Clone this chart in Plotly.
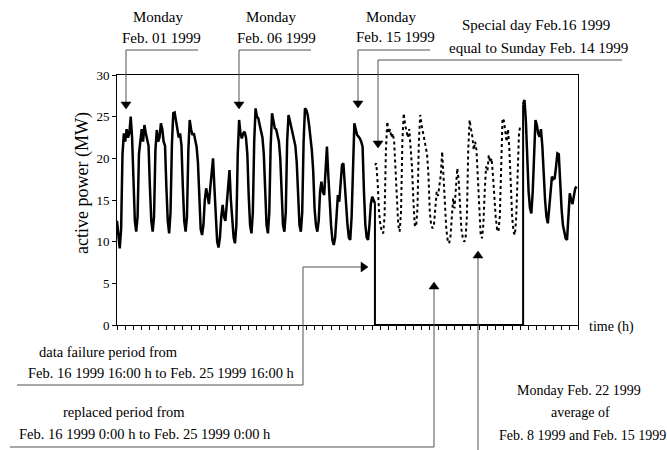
import plotly.graph_objects as go

# ---------------- data (2-hourly samples, MW) ----------------
STEP_H = 2
AXIS_END_H = 672          # Feb 1 0:00 .. Mar 1 0:00
FAIL_START_H = 376        # Feb 16 16:00
FAIL_END_H = 592          # Feb 25 16:00
REPLACED_START_H = 376

# measured load, week of Feb 1 - Feb 7
week1 = [
    12.5, 10.5, 9.2, 11.5, 20.5, 23, 22, 23.5, 22.5, 23, 25, 22.5,
    16.5, 12.5, 11.2, 13, 20.5, 22, 23.5, 22, 24, 23, 22, 21.5,
    16.5, 12.5, 11.2, 13, 21, 23.4, 22, 22.5, 24.2, 23.5, 22, 21.5,
    16.5, 12.5, 11, 13.5, 21.5, 25.4, 25.5, 24.5, 23, 22.5, 23, 21.5,
    16.5, 12.5, 11.2, 13, 21, 24.6, 23.5, 22.8, 23, 22, 21.4, 19.5,
    14, 11.5, 10.8, 12, 15, 16.4, 15.5, 14.5, 16.5, 18, 20, 16.5,
    12.5, 10, 9.3, 10.5, 13, 14.4, 13, 12.5, 14.5, 17, 18.6, 15,
]
# measured load, week of Feb 8 - Feb 14
week2 = [
    12, 10.5, 9.8, 12, 20.5, 24.6, 23, 22.4, 23, 23.2, 22.5, 20.5,
    15.5, 12, 11, 13.5, 22, 26, 25, 24.8, 24, 23.2, 22.5, 20.5,
    16, 12, 11, 13.5, 21.5, 25.4, 24.5, 23.6, 23.5, 22.8, 22, 20,
    15.5, 12, 11.2, 13.5, 22, 25.2, 24.5, 23.8, 23, 22.4, 21.5, 19.5,
    15.5, 12, 11.2, 13.5, 22, 26, 25.8, 25.2, 24, 22.4, 21, 18.5,
    14, 12, 11.2, 12.5, 16, 17.2, 16, 15.6, 18.5, 21.4, 18, 14.5,
    12, 10.2, 9.6, 10.5, 13, 15.6, 14.8, 17, 19.2, 19.4, 17, 13.5,
]
# measured load Feb 15 and Feb 16 up to the data failure
week3_before_failure = [
    12, 10.5, 10.2, 13, 20.5, 24.2, 23.5, 22.8, 22.6, 22.4, 22, 21.4,
    16, 12, 10.5, 10.2, 12, 14.5, 15.4, 15, 14.6,
]
# measured load after the data failure (Feb 25 16:00 .. Feb 28)
after_failure = [
    26.5, 27, 24.5, 20, 16, 14, 13.4, 16, 21, 24.6, 24, 23,
    22.6, 23.5, 21.5, 18, 15, 13, 12.2, 14, 16.5, 17.8, 17.5, 17.6,
    19, 20.6, 20.5, 17, 14, 12, 11, 10.4, 10.2, 13, 15.8, 15,
    14.5, 15.5, 16.4, 16.6,
]
# replaced (substituted) load, dotted
replaced = [
    19.2, 19.4, 17, 13.5,
    12, 11.2, 11, 13, 21, 24.4, 23, 23.5, 22.5, 23, 22, 19,
    15, 12, 11.2, 13.5, 22, 25.4, 24, 23, 22.5, 23.5, 21.5, 19,
    15, 12, 11.8, 14, 22, 25.2, 24, 23.2, 22, 21.5, 20.5, 18,
    13.5, 12, 11.6, 12, 14.5, 16, 15.5, 16.5, 18, 20.8, 18, 14,
    11.5, 10.2, 9.8, 10.5, 13, 15.2, 14, 16, 18.8, 17.5, 14, 11.5,
    10.5, 10, 10.2, 13, 21, 24.6, 23.5, 22.6, 21, 22, 21, 17,
    13, 11, 10.4, 12, 16, 19, 18.5, 20.4, 19.5, 20, 18, 15,
    13, 11.5, 11.2, 13, 21, 24.8, 24.5, 23, 22, 23.5, 21, 17,
    13, 11.2, 10.8, 13, 19, 23, 24,
]

y_ticks = [0, 5, 10, 15, 20, 25, 30]

# ---------------- series assembly ----------------
before = week1 + week2 + week3_before_failure
before_h = [i * STEP_H for i in range(len(before))]
after_h = [FAIL_END_H + i * STEP_H for i in range(len(after_failure))]
replaced_h = [REPLACED_START_H + i * STEP_H for i in range(len(replaced))]

meas_x = before_h + [None] + after_h
meas_y = before + [None] + after_failure

fail_x = [FAIL_START_H, FAIL_START_H, FAIL_END_H, FAIL_END_H]
fail_y = [before[-1], 0, 0, after_failure[0]]

FONT = "Liberation Serif"
L, R, T, B = 117, 89, 75, 125
W, H = 667, 450
PW, PH = W - L - R, H - T - B


def fx(px):
    return (px - L) / PW


def fy(py):
    return (T + PH - py) / PH


fig = go.Figure()
fig.add_trace(go.Scatter(x=replaced_h, y=replaced, mode="lines",
                         line=dict(color="black", width=2, dash="dot"),
                         hoverinfo="skip", showlegend=False))
fig.add_trace(go.Scatter(x=meas_x, y=meas_y, mode="lines",
                         line=dict(color="black", width=2.5),
                         connectgaps=False, showlegend=False))
fig.add_trace(go.Scatter(x=fail_x, y=fail_y, mode="lines",
                         line=dict(color="black", width=2),
                         showlegend=False, cliponaxis=False))

shapes = []
annotations = []
LINE_C = "#505050"


def seg(x0, y0, x1, y1):
    shapes.append(dict(type="line", xref="paper", yref="paper",
                       x0=fx(x0), y0=fy(y0), x1=fx(x1), y1=fy(y1),
                       line=dict(color=LINE_C, width=1)))


def head(tipx, tipy, direction, w=10, h=7):
    if direction == "down":
        pts = [(tipx - w / 2, tipy - h), (tipx + w / 2, tipy - h), (tipx, tipy)]
    elif direction == "up":
        pts = [(tipx - w / 2, tipy + h), (tipx + w / 2, tipy + h), (tipx, tipy)]
    else:  # right
        pts = [(tipx - h, tipy - w / 2), (tipx - h, tipy + w / 2), (tipx, tipy)]
    path = "M {} {} L {} {} L {} {} Z".format(
        *[v for p in pts for v in (fx(p[0]), fy(p[1]))])
    shapes.append(dict(type="path", xref="paper", yref="paper", path=path,
                       fillcolor="black", line=dict(color="black", width=0.5)))


def text(s, cx, cy, size=15, xanchor="center"):
    annotations.append(dict(text=s, x=fx(cx), y=fy(cy), xref="paper", yref="paper",
                            showarrow=False, xanchor=xanchor, yanchor="middle",
                            font=dict(family=FONT, size=size, color="black")))


# top annotations
text("Monday", 158, 17)
text("Feb. 01 1999", 161, 38)
seg(126, 50, 198, 50); seg(126, 50, 126, 102); head(126, 109, "down")

text("Monday", 271, 17)
text("Feb. 06 1999", 276, 38)
seg(239, 50, 311, 50); seg(239, 50, 239, 102); head(239, 109, "down")

text("Monday", 391, 17)
text("Feb. 15 1999", 395, 37)
seg(358, 50, 430, 50); seg(358, 50, 358, 101); head(358, 108, "down")

text("Special day Feb.16 1999", 536, 25)
text("equal to Sunday Feb. 14 1999", 538, 48)
seg(378, 60, 622, 60); seg(378, 60, 378, 141); head(378, 148, "down")

# bottom-left annotations
text("data failure period from", 108, 352, size=14.5)
text("Feb. 16 1999 16:00 h to Feb. 25 1999 16:00 h", 161, 373, size=14.5)
seg(17, 385, 303, 385); seg(303, 385, 303, 267); seg(303, 267, 361, 267)
head(368, 267, "right")

text("replaced period from", 124, 412, size=14.5)
text("Feb. 16 1999 0:00 h to Feb. 25 1999 0:00 h", 145, 434, size=14.5)
seg(10, 447, 434, 447); seg(434, 447, 434, 289); head(434, 282, "up")

# bottom-right annotation
text("Monday Feb. 22 1999", 579, 390, size=14)
text("average of", 580, 413, size=14)
text("Feb. 8 1999 and Feb. 15 1999", 582, 435, size=14)
seg(478, 450, 478, 258); head(478, 251, "up")

# axis texts
text("time (h)", 587, 327, size=14, xanchor="left")
annotations.append(dict(text="active power (MW)", x=fx(82), y=fy(183),
                        xref="paper", yref="paper", showarrow=False,
                        textangle=-90, xanchor="center", yanchor="middle",
                        font=dict(family=FONT, size=18, color="black")))

fig.update_layout(
    width=W, height=H,
    margin=dict(l=L, r=R, t=T, b=B),
    paper_bgcolor="white", plot_bgcolor="white",
    shapes=shapes, annotations=annotations,
    showlegend=False,
    xaxis=dict(range=[0, AXIS_END_H], tick0=0, dtick=12, ticks="outside",
               ticklen=4, tickcolor="black", showticklabels=False,
               showline=True, linecolor="black", linewidth=1, mirror=True,
               showgrid=False, zeroline=False),
    yaxis=dict(range=[0, 30], tickvals=y_ticks, ticks="outside", ticklen=4,
               tickcolor="black", showline=True, linecolor="black",
               linewidth=1, mirror=True, showgrid=False, zeroline=False,
               tickfont=dict(family=FONT, size=13, color="black")),
)

fig.write_html("out.html")
